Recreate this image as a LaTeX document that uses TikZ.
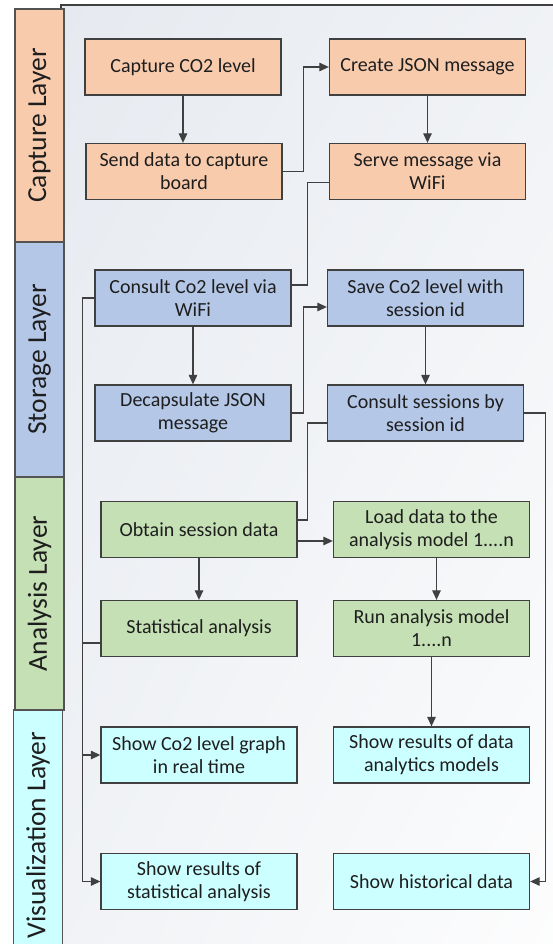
\documentclass[tikz,border=0pt]{standalone}
\usepackage{fontspec}
\setmainfont{Carlito}
\usetikzlibrary{arrows.meta,calc,shadings}
\definecolor{peach}{HTML}{F8CBAD}
\definecolor{lblue}{HTML}{B4C7E7}
\definecolor{lgreen}{HTML}{C5E0B4}
\definecolor{lcyan}{HTML}{CCFFFF}
\definecolor{edge}{HTML}{404040}
\definecolor{txt}{HTML}{1E1E1E}
\definecolor{bgA}{HTML}{E6EAF0}
\definecolor{bgB}{HTML}{F1F3F6}
\begin{document}
\begin{tikzpicture}[x=1pt,y=-1pt,
  box/.style={draw=edge, line width=1.3pt, minimum width=196pt, minimum height=56pt,
    inner sep=2pt, align=center, text=txt, font=\fontsize{20}{23}\selectfont},
  layer/.style={draw=edge!90, line width=1.3pt, rotate=90, minimum height=49pt,
    inner sep=0pt, text=txt, font=\fontsize{27.5}{31}\selectfont},
  conn/.style={draw=edge, line width=1.2pt},
  arr/.style={conn, -{Triangle[length=9.5pt,width=8.5pt]}}]
\useasboundingbox (0,0) rectangle (553,944);
\clip (0,0) rectangle (553,944);
\fill[white] (0,0) rectangle (553,944);
% background frame
\shade[upper left=bgA, upper right=bgB, lower left=bgB, lower right=white] (61,5) rectangle (620,1000);
\draw[edge, line width=1.4pt] (61,1000) -- (61,5) -- (620,5);
% layer bars
\node[layer, fill=peach,  minimum width=233pt] (L1) at (39.5,125.5) {Capture Layer};
\node[layer, fill=lblue,  minimum width=235pt] (L2) at (39.5,359.5) {Storage Layer};
\node[layer, fill=lgreen, minimum width=233pt] (L3) at (39.5,593.5) {Analysis Layer};
\node[layer, fill=lcyan,  minimum width=250pt] (L4) at (38,835) {Visualization Layer};
% capture
\node[box, fill=peach] (c1) at (183,67) {Capture CO2 level};
\node[box, fill=peach] (c2) at (184,171.5) {Send data to capture\\board};
\node[box, fill=peach] (c3) at (427.5,67) {Create JSON message};
\node[box, fill=peach] (c4) at (427.5,171.5) {Serve message via\\WiFi};
% storage
\node[box, fill=lblue] (s1) at (193,298) {Consult Co2 level via\\WiFi};
\node[box, fill=lblue] (s2) at (193,413) {Decapsulate JSON\\message};
\node[box, fill=lblue] (s3) at (425.5,298) {Save Co2 level with\\session id};
\node[box, fill=lblue] (s4) at (425.5,413) {Consult sessions by\\session id};
% analysis
\node[box, fill=lgreen] (a1) at (199,529.5) {Obtain session data};
\node[box, fill=lgreen] (a2) at (199,628.5) {Statistical analysis};
\node[box, fill=lgreen] (a3) at (431.5,529.5) {Load data to the\\analysis model 1....n};
\node[box, fill=lgreen] (a4) at (431.5,628.5) {Run analysis model\\1....n};
% visualization
\node[box, fill=lcyan] (v1) at (199,755) {Show Co2 level graph\\in real time};
\node[box, fill=lcyan] (v2) at (199,881.5) {Show results of\\statistical analysis};
\node[box, fill=lcyan] (v3) at (431.5,755) {Show results of data\\analytics models};
\node[box, fill=lcyan] (v4) at (431.5,881.5) {Show historical data};
% connectors
\draw[arr] (c1.south) -- (c1.south |- c2.north);
\draw[arr] (c2.east) -- ++(21,0) |- (c3.west);
\draw[arr] (c3.south) -- (c4.north);
\draw[conn] ($(c4.west)+(0,11)$) -- ++(-21,0) |- ($(s1.east)+(0,-13)$);
\draw[arr] (s1.south) -- (s2.north);
\draw[arr] (s2.east) -- ++(12,0) |- ($(s3.west)+(0,9)$);
\draw[arr] (s3.south) -- (s4.north);
\draw[conn] ($(s4.west)+(0,10)$) -- ++(-19.5,0) |- ($(a1.east)+(0,-9.5)$);
\draw[arr] ($(a1.east)+(0,11.5)$) -- ($(a3.west)+(0,11.5)$);
\draw[arr] (a1.south) -- (a2.north);
\draw[arr] ($(a3.south)+(5,0)$) -- ($(a4.north)+(5,0)$);
\draw[arr] (a4.south) -- (v3.north);
\draw[arr] (s4.east) -- ++(21.5,0) |- (v4.east);
\draw[arr] (s1.west) -- ++(-11.5,0) |- (v1.west);
\draw[arr] ($(a2.west)+(0,14.5)$) -- ++(-18,0) |- (v2.west);
\end{tikzpicture}
\end{document}
